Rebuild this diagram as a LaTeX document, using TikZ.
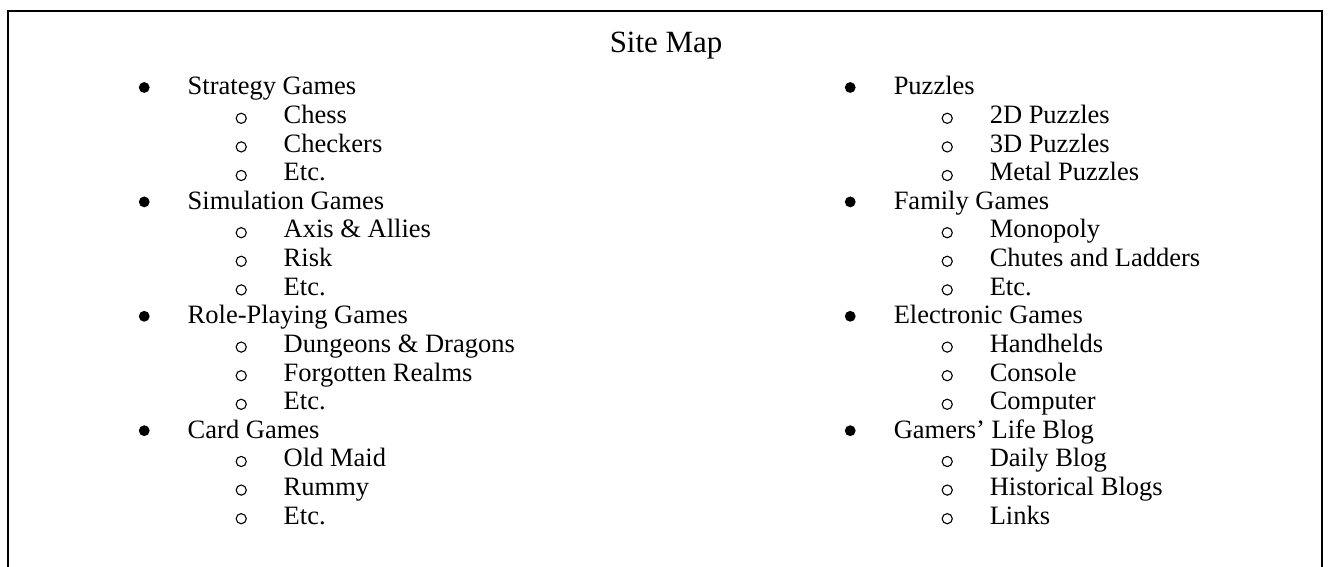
\documentclass[tikz,border=0pt]{standalone}
\usepackage{fontspec}
\setmainfont{Liberation Serif}
\usetikzlibrary{positioning}
\tikzset{
    siteframe/.style={line width=0.9pt},
    sitetitle/.style={anchor=base, inner sep=0pt, font=\fontsize{14}{17}\selectfont},
    topmark/.style={circle, fill, inner sep=0pt, minimum size=4.9pt, label distance=16.85pt, yshift=0.6pt},
    submark/.style={circle, draw, line width=0.5pt, inner sep=0pt, minimum size=4.6pt, label distance=16.5pt, yshift=-0.4pt},
    topentry/.style={anchor=base west, inner sep=0pt, text height=8.2pt, text depth=2.6pt, font=\fontsize{12}{14}\selectfont,
        label={[topmark]left:{}}},
    subentry/.style={anchor=base west, inner sep=0pt, text height=8.2pt, text depth=2.6pt, font=\fontsize{12}{14}\selectfont,
        label={[submark]left:{}}}
}
\begin{document}
\begin{tikzpicture}[x=0.4528pt, y=-0.4528pt]
        \useasboundingbox (0,0) rectangle (1328,567);
        \draw[siteframe] (8,567) -- (8,11) -- (1322,11) -- (1322,567);
        \node[sitetitle] (title) at (666,53) {Site Map};
        % left column
        \node[topentry] (strategy) at (187.3,95) {Strategy Games};
        \node[subentry] (chess) at (283.3,123.6) {Chess};
        \node[subentry] (checkers) at (283.3,152.2) {Checkers};
        \node[subentry] (strategyetc) at (283.3,180.8) {Etc.};
        \node[topentry] (simulation) at (187.3,209.4) {Simulation Games};
        \node[subentry] (axis) at (283.3,238) {Axis \& Allies};
        \node[subentry] (risk) at (283.3,266.6) {Risk};
        \node[subentry] (simulationetc) at (283.3,295.2) {Etc.};
        \node[topentry] (roleplaying) at (187.3,323.8) {Role-Playing Games};
        \node[subentry] (dungeons) at (283.3,352.4) {Dungeons \& Dragons};
        \node[subentry] (realms) at (283.3,381) {Forgotten Realms};
        \node[subentry] (roleplayingetc) at (283.3,409.6) {Etc.};
        \node[topentry] (card) at (187.3,438.2) {Card Games};
        \node[subentry] (oldmaid) at (283.3,466.8) {Old Maid};
        \node[subentry] (rummy) at (283.3,495.4) {Rummy};
        \node[subentry] (cardetc) at (283.3,524) {Etc.};
        % right column
        \node[topentry] (puzzles) at (893.3,95) {Puzzles};
        \node[subentry] (twod) at (989.3,123.6) {2D Puzzles};
        \node[subentry] (threed) at (989.3,152.2) {3D Puzzles};
        \node[subentry] (metal) at (989.3,180.8) {Metal Puzzles};
        \node[topentry] (family) at (893.3,209.4) {Family Games};
        \node[subentry] (monopoly) at (989.3,238) {Monopoly};
        \node[subentry] (chutes) at (989.3,266.6) {Chutes and Ladders};
        \node[subentry] (familyetc) at (989.3,295.2) {Etc.};
        \node[topentry] (electronic) at (893.3,323.8) {Electronic Games};
        \node[subentry] (handhelds) at (989.3,352.4) {Handhelds};
        \node[subentry] (console) at (989.3,381) {Console};
        \node[subentry] (computer) at (989.3,409.6) {Computer};
        \node[topentry] (blog) at (893.3,438.2) {Gamers’ Life Blog};
        \node[subentry] (daily) at (989.3,466.8) {Daily Blog};
        \node[subentry] (historical) at (989.3,495.4) {Historical Blogs};
        \node[subentry] (links) at (989.3,524) {Links};
    \end{tikzpicture}
\end{document}
